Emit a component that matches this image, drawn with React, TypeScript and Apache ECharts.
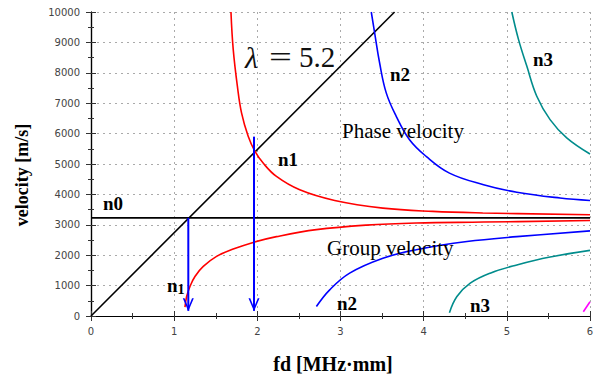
import React, { useEffect, useRef } from "react";
import * as echarts from "echarts";

// ---- data ----
const xRange = [0, 6];
const yRange = [0, 10000];
const n0Level = 3230;
const lambdaLine = [[0, 0], [3.65, 10000]];
const n1Phase = [[1.683, 10000], [1.71, 8770], [1.76, 7560], [1.81, 6680], [1.89, 5910], [1.97, 5420], [2.07, 5030], [2.23, 4590], [2.51, 4150], [2.93, 3800], [3.51, 3550], [4.11, 3440], [4.71, 3390], [6, 3330]];
const n1Group = [[1.13, 290], [1.15, 640], [1.19, 970], [1.25, 1300], [1.35, 1630], [1.51, 1960], [1.71, 2200], [1.95, 2420], [2.23, 2610], [2.71, 2840], [3.31, 2990], [3.91, 3060], [4.72, 3090], [6, 3140]];
const n2Phase = [[3.37, 10000], [3.41, 9320], [3.47, 8330], [3.55, 7340], [3.67, 6570], [3.83, 5800], [4.03, 5250], [4.31, 4700], [4.72, 4320], [5.12, 4070], [5.64, 3880], [6, 3800]];
const n2Group = [[2.71, 310], [2.87, 860], [3.11, 1410], [3.51, 1900], [3.91, 2180], [4.52, 2450], [5.12, 2610], [6, 2800]];
const n3Phase = [[5.06, 10000], [5.14, 9100], [5.24, 8220], [5.36, 7230], [5.52, 6460], [5.72, 5860], [6, 5330]];
const n3Group = [[4.31, 110], [4.4, 640], [4.56, 1080], [4.8, 1410], [5.12, 1680], [5.52, 1940], [6, 2160]];
const n4Group = [[5.92, 140], [6, 470]];
const arrowX = [1.17, 1.96];
const arrowTop = [3230, 5900];
const arrowTip = 170;

const SERIF = "'Liberation Serif', 'Times New Roman', serif";
const chevron = "path://M0,0 L5,10 L10,0 L8.4,0 L5,7 L1.6,0 Z";

export default function App() {
  const ref = useRef<HTMLDivElement>(null);
  useEffect(() => {
    if (!ref.current) return;
    const chart = echarts.init(ref.current, undefined, { renderer: "svg" });
    const curve = (data: number[][], color: string, width = 1.6) => ({
      type: "line",
      data,
      smooth: 0.4,
      showSymbol: false,
      symbol: "none",
      lineStyle: { color, width },
      silent: true,
      z: 3,
    });
    const arrow = (x: number, top: number) => ({
      type: "line",
      data: [
        { value: [x, top], symbol: "none" },
        { value: [x, arrowTip], symbol: chevron, symbolSize: [11, 13], symbolOffset: [0, -6] },
      ],
      symbol: "none",
      showSymbol: true,
      itemStyle: { color: "#0000ff" },
      lineStyle: { color: "#0000ff", width: 2 },
      silent: true,
      z: 5,
    });
    const axisCommon = {
      type: "value",
      axisLine: { show: true, lineStyle: { color: "#000", width: 1.2 } },
      axisTick: { show: true, inside: true, length: 5, lineStyle: { color: "#333" } },
      minorTick: { show: true, splitNumber: 2, length: 3, lineStyle: { color: "#333" } },
    };
    const labelStyle = {
      color: "#444",
      fontSize: 10,
      fontFamily: "'DejaVu Sans', sans-serif",
      formatter: (v: number) => String(v),
    };
    const txt = (text: string, x: number, y: number, size: number, weight = "bold", extra: any = {}) => ({
      type: "text",
      x,
      y,
      style: { text, fontSize: size, fontFamily: SERIF, fontWeight: weight, fill: "#000", textVerticalAlign: "middle", ...extra },
      z: 10,
    });
    chart.setOption({
      animation: false,
      grid: { left: 91, right: 7, top: 12, bottom: 60 },
      xAxis: [
        {
          ...axisCommon,
          min: xRange[0],
          max: xRange[1],
          interval: 1,
          axisLabel: { ...labelStyle, margin: 10 },
          splitLine: { show: true, lineStyle: { color: "#aaa", type: [2, 4], width: 1 } },
        },
        {
          ...axisCommon,
          position: "top",
          min: xRange[0],
          max: xRange[1],
          interval: 1,
          axisLabel: { show: false },
          splitLine: { show: false },
        },
      ],
      yAxis: [
        {
          ...axisCommon,
          min: yRange[0],
          max: yRange[1],
          interval: 1000,
          axisLabel: { ...labelStyle, margin: 11 },
          splitLine: { show: true, lineStyle: { color: "#aaa", type: [2, 4], width: 1 } },
        },
        {
          ...axisCommon,
          position: "right",
          min: yRange[0],
          max: yRange[1],
          interval: 1000,
          axisLabel: { show: false },
          splitLine: { show: false },
        },
      ],
      series: [
        { ...curve([[0, n0Level], [6, n0Level]], "#000", 1.8), smooth: false },
        { ...curve(lambdaLine, "#000", 1.6), smooth: false },
        curve(n1Phase, "#ff0000"),
        curve(n1Group, "#ff0000"),
        curve(n2Phase, "#0000ff"),
        curve(n2Group, "#0000ff"),
        curve(n3Phase, "#008c8c"),
        curve(n3Group, "#008c8c"),
        curve(n4Group, "#ff00ff"),
        arrow(arrowX[0], arrowTop[0]),
        arrow(arrowX[1], arrowTop[1]),
      ],
      graphic: [
        txt("λ", 245, 57, 30, "normal", { fontStyle: "italic", fill: "#111" }),
        { ...txt("=", 0, 0, 30, "normal", { fill: "#111" }), x: 269, y: 57, scaleX: 1.35 },
        txt("5.2", 299, 57, 29, "normal", { fill: "#111" }),
        txt("n2", 390, 74, 19),
        txt("n3", 533, 59, 19),
        txt("n1", 278, 159, 19),
        txt("Phase velocity", 342, 131, 21, "normal"),
        txt("Group velocity", 327, 248, 21, "normal"),
        txt("n0", 103, 203, 19),
        {
          type: "text",
          x: 167,
          y: 285,
          style: {
            text: "{a|n}{b|1}",
            fontFamily: SERIF,
            rich: {
              a: { fontSize: 19, fontWeight: "bold", fontFamily: SERIF, fill: "#000" },
              b: { fontSize: 14, fontWeight: "bold", fontFamily: SERIF, fill: "#000", padding: [8, 0, 0, 0] },
            },
            textVerticalAlign: "middle",
          },
          z: 10,
        },
        txt("n2", 337, 303, 19),
        txt("n3", 470, 305, 19),
        { ...txt("velocity [m/s]", 0, 0, 18, "bold", { textAlign: "center" }), x: 22, y: 175, rotation: Math.PI / 2 },
        txt("fd [MHz·mm]", 333, 364, 20, "bold", { textAlign: "center" }),
      ],
    });
    return () => chart.dispose();
  }, []);
  return <div ref={ref} style={{ position: "fixed", left: 0, top: 0, width: 597, height: 376, background: "#fff" }} />;
}
